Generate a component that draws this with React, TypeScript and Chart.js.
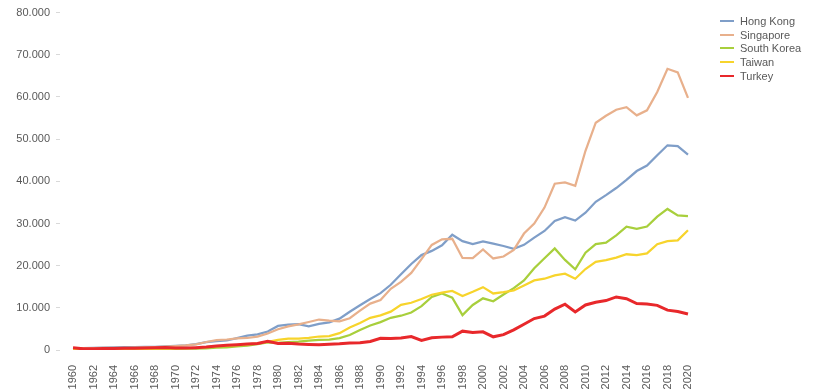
import React, { useEffect, useRef } from "react";
import { Chart, registerables } from "chart.js";

Chart.register(...registerables);

const years: number[] = Array.from({ length: 61 }, (_, i) => 1960 + i);

const hongKong = [429, 446, 493, 568, 633, 678, 710, 753, 761, 845, 960, 1088, 1383, 1865, 2100, 2252, 2837, 3411, 3723, 4389, 5700, 5991, 6134, 5595, 6208, 6543, 7436, 9071, 10610, 12098, 13486, 15466, 17976, 20396, 22503, 23497, 24818, 27330, 25809, 25092, 25757, 25230, 24666, 23977, 24928, 26650, 28224, 30594, 31516, 30697, 32550, 35143, 36731, 38404, 40315, 42432, 43731, 46166, 48538, 48356, 46324];
const singapore = [428, 449, 472, 511, 485, 517, 567, 626, 708, 812, 926, 1071, 1354, 1902, 2342, 2490, 2770, 2846, 3194, 3900, 4928, 5596, 6077, 6633, 7228, 6980, 6800, 7539, 9323, 11003, 11862, 14502, 16136, 18290, 21553, 24915, 26233, 26376, 21829, 21797, 23852, 21700, 22160, 23730, 27609, 29961, 33769, 39432, 39721, 38927, 47237, 53891, 55546, 56967, 57563, 55647, 56828, 61176, 66679, 65831, 59797];
const southKorea = [158, 94, 106, 146, 124, 109, 133, 161, 198, 243, 279, 300, 323, 406, 563, 616, 831, 1051, 1405, 1783, 1715, 1884, 1994, 2199, 2413, 2482, 2835, 3555, 4748, 5817, 6610, 7637, 8127, 8885, 10385, 12565, 13403, 12398, 8282, 10672, 12257, 11561, 13165, 14673, 16496, 19403, 21743, 24086, 21350, 19144, 23087, 25096, 25467, 27182, 29250, 28737, 29274, 31601, 33447, 31902, 31721];
const taiwan = [160, 150, 170, 190, 220, 220, 240, 270, 300, 340, 390, 450, 520, 700, 920, 980, 1150, 1320, 1600, 1940, 2389, 2700, 2680, 2880, 3200, 3300, 4000, 5350, 6380, 7630, 8200, 9100, 10700, 11200, 12100, 13100, 13600, 14000, 12800, 13800, 14900, 13400, 13700, 14100, 15300, 16500, 16900, 17700, 18100, 16900, 19200, 20900, 21300, 21900, 22700, 22500, 22900, 25100, 25800, 26000, 28400];
const turkey = [509, 283, 309, 350, 369, 386, 444, 482, 526, 571, 489, 453, 560, 687, 934, 1129, 1268, 1396, 1549, 2079, 1564, 1580, 1402, 1310, 1246, 1368, 1477, 1650, 1711, 2022, 2794, 2736, 2842, 3180, 2270, 2897, 3053, 3144, 4465, 4137, 4317, 3120, 3640, 4760, 6102, 7456, 8036, 9710, 10854, 9038, 10672, 11336, 11713, 12582, 12158, 11006, 10895, 10590, 9455, 9127, 8538];

const seriesNames = ["Hong Kong", "Singapore", "South Korea", "Taiwan", "Turkey"];
const seriesValues = [hongKong, singapore, southKorea, taiwan, turkey];
const seriesColors = ["#7f9ec8", "#e8b08c", "#a8cf3c", "#f7d42c", "#e8282b"];
const seriesWidths = [2.25, 2.25, 2.25, 2.25, 3];

const FONT = "'Liberation Sans', Arial, sans-serif";
const TEXT = "#595959";

const fmt = (v: number) =>
  String(Math.round(v)).replace(/\B(?=(\d{3})+(?!\d))/g, ".");

export default function App() {
  const ref = useRef<HTMLCanvasElement | null>(null);

  useEffect(() => {
    if (!ref.current) return;
    const chart = new Chart(ref.current, {
      type: "line",
      data: {
        datasets: seriesNames.map((name, s) => ({
          label: name,
          data: years.map((yr, i) => ({ x: yr, y: seriesValues[s][i] })),
          borderColor: seriesColors[s],
          backgroundColor: seriesColors[s],
          borderWidth: seriesWidths[s],
          pointRadius: 0,
          tension: 0,
          fill: false,
          order: seriesNames.length - 1 - s,
        })),
      },
      options: {
        animation: false,
        responsive: true,
        maintainAspectRatio: false,
        layout: { padding: { top: 10, right: 124, bottom: 0, left: 0 } },
        plugins: { legend: { display: false }, tooltip: { enabled: false } },
        scales: {
          x: {
            type: "linear",
            min: 1958.73,
            max: 2021.27,
            afterBuildTicks: (scale: any) => {
              scale.ticks = years.filter((y) => y % 2 === 0).map((v) => ({ value: v }));
            },
            afterFit: (scale: any) => {
              scale.height = 40;
            },
            grid: { display: false },
            border: { display: false },
            ticks: {
              autoSkip: false,
              maxRotation: 90,
              minRotation: 90,
              padding: 7,
              color: TEXT,
              font: { family: FONT, size: 11 },
              callback: (v: any) => String(v),
            },
          },
          y: {
            min: 0,
            max: 80000,
            afterFit: (scale: any) => {
              scale.width = 60;
            },
            grid: {
              display: true,
              drawOnChartArea: false,
              drawTicks: true,
              tickLength: 4,
              color: "#d9d9d9",
            },
            border: { display: false },
            ticks: {
              stepSize: 10000,
              padding: 6,
              color: TEXT,
              font: { family: FONT, size: 11 },
              callback: (v: any) => fmt(Number(v)),
            },
          },
        },
      },
    });
    return () => chart.destroy();
  }, []);

  return (
    <div style={{ position: "absolute", left: 0, top: 0, width: 825, height: 390, background: "#fff" }}>
      <canvas ref={ref} />
      <div style={{ position: "absolute", left: 720, top: 14, fontFamily: FONT, fontSize: 11, color: TEXT }}>
        {seriesNames.map((name, s) => (
          <div key={name} style={{ display: "flex", alignItems: "center", height: 13.8 }}>
            <span style={{ display: "inline-block", width: 14, height: 2, background: seriesColors[s], marginRight: 6 }} />
            <span>{name}</span>
          </div>
        ))}
      </div>
    </div>
  );
}
